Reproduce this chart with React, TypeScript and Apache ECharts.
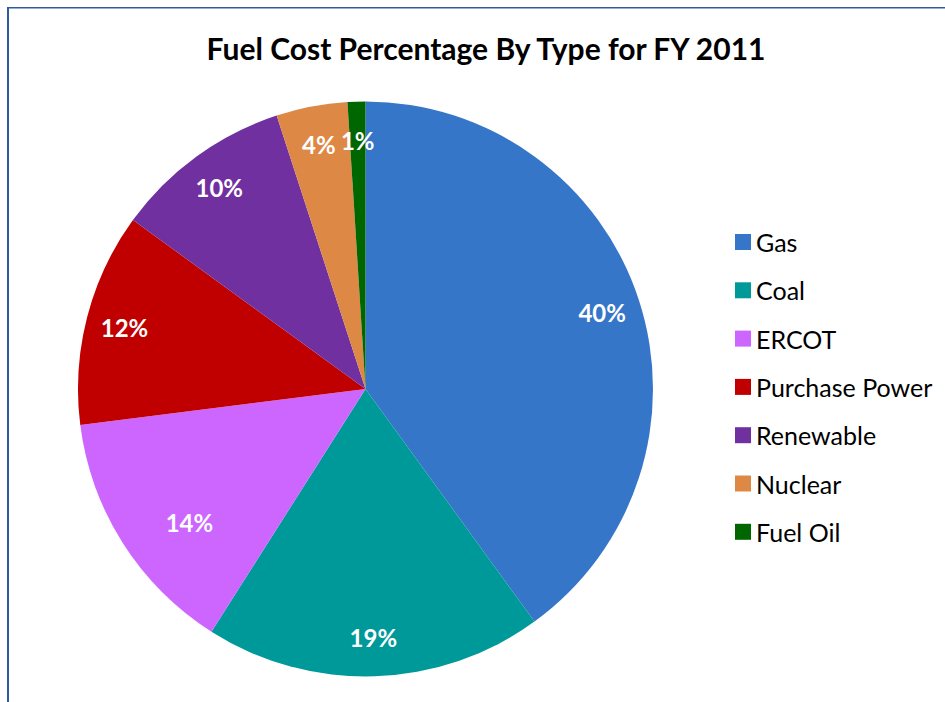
import React, { useEffect, useRef } from "react";
import * as echarts from "echarts";

const titleText = "Fuel Cost Percentage By Type for FY 2011";
const categories = ["Gas", "Coal", "ERCOT", "Purchase Power", "Renewable", "Nuclear", "Fuel Oil"];
const values = [40, 19, 14, 12, 10, 4, 1];
const colors = ["#3676c8", "#009999", "#cc66ff", "#c00000", "#7030a0", "#dd8844", "#006600"];

const R = 287.5;
const CX = 365.5;
const CY = 389;

export default function App() {
  const ref = useRef<HTMLDivElement>(null);
  useEffect(() => {
    if (!ref.current) return;
    const chart = echarts.init(ref.current, undefined, { renderer: "svg" });
    const data = categories.map((name, i) => ({ name, value: values[i], itemStyle: { color: colors[i] } }));
    chart.setOption({
      animation: false,
      backgroundColor: "#ffffff",
      title: {
        text: titleText,
        left: 481,
        top: 28,
        textAlign: "center",
        textStyle: { fontFamily: "Lato", fontWeight: "bold", fontSize: 30, color: "#000000" },
      },
      legend: {
        orient: "vertical",
        left: 730,
        top: 224.5,
        icon: "rect",
        itemWidth: 16,
        itemHeight: 16,
        itemGap: 23.3,
        data: categories,
        textStyle: { fontFamily: "Lato", fontSize: 25, color: "#000000" },
      },
      graphic: [
        { type: "rect", shape: { x: 7, y: 7, width: 2, height: 702 }, style: { fill: "#2f5c9f" }, silent: true },
        { type: "rect", shape: { x: 7, y: 7, width: 945, height: 1.5 }, style: { fill: "#2f5c9f" }, silent: true },
      ],
      series: [
        {
          type: "pie",
          center: [CX, CY],
          radius: [0, R],
          startAngle: 90,
          clockwise: true,
          label: { show: false },
          labelLine: { show: false },
          emphasis: { disabled: true },
          data,
        },
        {
          type: "pie",
          center: [CX, CY],
          radius: [0, R * 1.71],
          startAngle: 90,
          clockwise: true,
          silent: true,
          itemStyle: { color: "transparent" },
          label: {
            show: true,
            position: "inside",
            formatter: "{c}%",
            color: "#ffffff",
            fontFamily: "Lato",
            fontWeight: "bold",
            fontSize: 24,
          },
          labelLine: { show: false },
          emphasis: { disabled: true },
          data: categories.map((name, i) => ({
            name,
            value: values[i],
            itemStyle: { color: "transparent" },
            label: name === "ERCOT" ? { padding: [0, 0, 16, 68] } : undefined,
          })),
        },
      ],
    });
    return () => chart.dispose();
  }, []);
  return <div ref={ref} style={{ position: "fixed", left: 0, top: 0, width: 945, height: 702 }} />;
}
